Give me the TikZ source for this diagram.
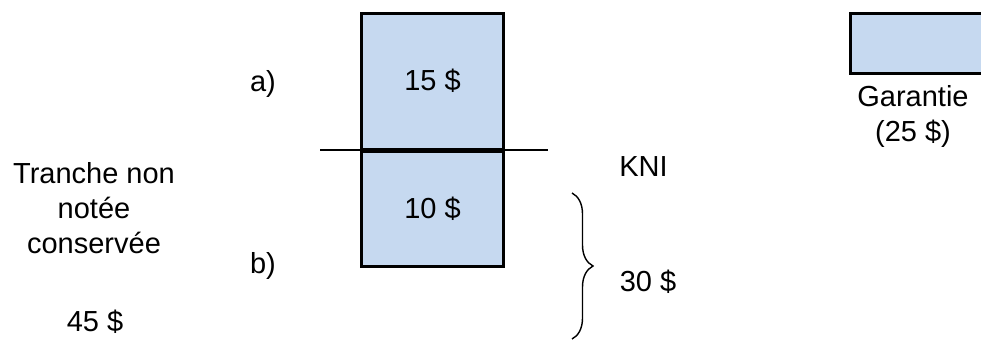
\documentclass[tikz,border=0pt]{standalone}
\usepackage{fontspec}
\setmainfont{Liberation Sans}
\usetikzlibrary{positioning,decorations.pathreplacing}
\definecolor{boxblue}{HTML}{C6D9F0}
\tikzset{
    value-box/.style = {draw=black, fill=boxblue, line width=2.7pt, rectangle, inner sep=0pt, font=\fontsize{29}{35}\selectfont},
    plain-text/.style = {inner sep=0pt, align=center, font=\fontsize{29}{35}\selectfont},
}

\begin{document}
\begin{tikzpicture}[x=1pt, y=-1pt]
\useasboundingbox (0,0) rectangle (981,341);
\node[value-box, minimum width=142pt, minimum height=135.5pt] (upper) at (432.5,81.25) {15 \$};
\node[value-box, minimum width=142pt, minimum height=114.5pt, below=0pt of upper] (lower) {10 \$};
\draw[line width=2pt] ([xshift=-40pt]upper.south west) -- ([xshift=43pt]upper.south east);
\node[plain-text] (a) at (263,84) {a)};
\node[plain-text] (b) at (263,266) {b)};
\node[plain-text] (kni) at (643.5,167) {KNI};
\node[plain-text] (total) at (648,282) {30 \$};
\node[plain-text] (tranche) at (94,208) {Tranche non\\notée\\conservée};
\node[plain-text] (tranche-value) at (95,322) {45 \$};
\node[value-box, minimum width=141pt, minimum height=60pt] (guarantee) at (921,43.5) {};
\node[plain-text] (guarantee-label) at (913,116) {Garantie\\(25 \$)};
\coordinate (brace-top) at (572,193);
\coordinate (brace-bottom) at (572,339);
\draw[decorate, decoration={brace, amplitude=21pt}, line width=1.4pt] (brace-top) -- (brace-bottom);
\end{tikzpicture}
\end{document}
